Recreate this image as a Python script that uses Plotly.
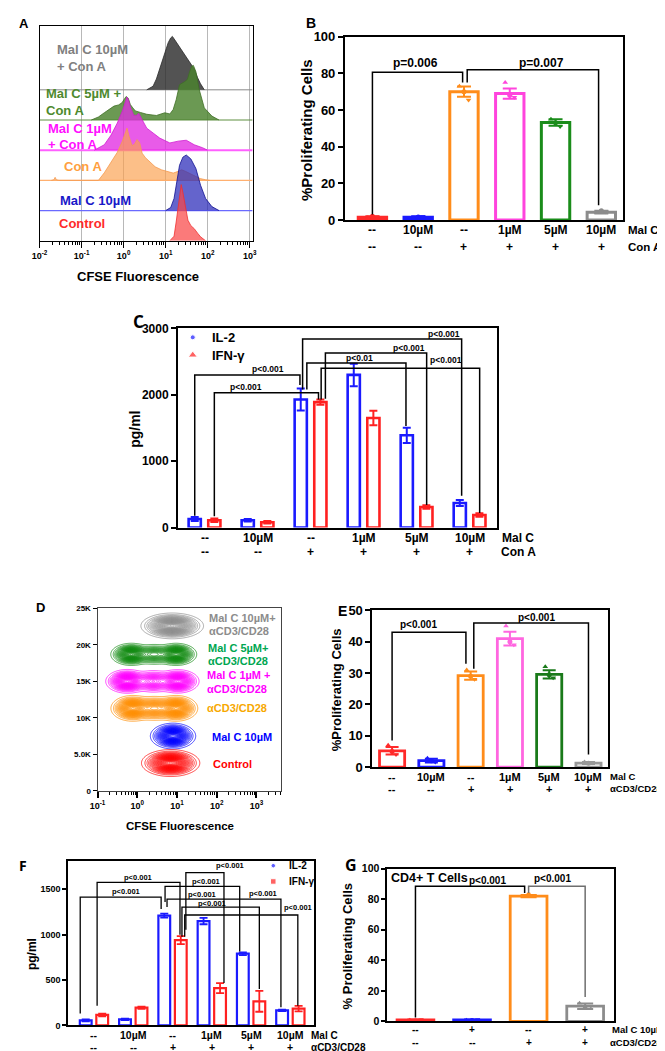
import numpy as np
import plotly.graph_objects as go

W, H = 665, 1051
ARIAL = "Liberation Sans, Arial, Helvetica, sans-serif"
CAL = "Open Sans, Liberation Sans, Arial, sans-serif"

# ======================= DATA =======================
# ---- Panel A: CFSE histograms (x = log10 CFSE, y = relative count in row units)
A_gray_x = [0.55, 0.7, 0.78, 0.86, 0.94, 1.0, 1.06, 1.12, 1.16, 1.22, 1.3, 1.38, 1.49, 1.58, 1.68, 1.76, 1.83, 1.92]
A_gray_y = [0, 0.12, 0.36, 0.7, 1.07, 1.35, 1.56, 1.72, 1.77, 1.65, 1.48, 1.3, 1.07, 0.88, 0.69, 0.4, 0.2, 0]
A_green_x = [-0.77, -0.6, -0.46, -0.32, -0.23, -0.12, -0.04, 0.02, 0.06, 0.11, 0.16, 0.22, 0.28, 0.4, 0.55,
             0.78, 0.98, 1.1, 1.18, 1.25, 1.33, 1.45, 1.52, 1.57, 1.62, 1.66, 1.72, 1.8, 1.92, 2.1, 2.27]
A_green_y = [0, 0.1, 0.24, 0.38, 0.46, 0.5, 0.57, 0.7, 0.78, 0.72, 0.51, 0.4, 0.3, 0.25, 0.19,
             0.15, 0.24, 0.2, 0.35, 0.67, 1.17, 1.27, 1.35, 1.6, 1.78, 1.81, 1.6, 1.0, 0.4, 0.13, 0]
A_mag_x = [-0.7, -0.46, -0.3, -0.15, -0.03, 0.04, 0.08, 0.12, 0.16, 0.24, 0.3, 0.36, 0.44, 0.55, 0.7,
           0.86, 1.1, 1.3, 1.49, 1.68, 1.88, 2.0]
A_mag_y = [0, 0.18, 0.5, 0.9, 1.3, 1.6, 1.76, 1.65, 1.43, 1.16, 1.15, 1.22, 1.0, 0.73, 0.57,
           0.4, 0.24, 0.3, 0.33, 0.18, 0.08, 0]
A_org_x = [-1.72, -1.66, -1.63, -1.6, -1.54, -0.6, -0.46, -0.3, -0.15, -0.03, 0.04, 0.08, 0.13, 0.2, 0.26,
           0.32, 0.38, 0.44, 0.52, 0.62, 0.75, 0.9, 1.05, 1.18, 1.3, 1.38, 1.47, 1.58, 1.7, 1.82, 1.95, 2.05]
A_org_y = [0, 0.02, 0.1, 0.02, 0, 0, 0.25, 0.6, 0.93, 1.3, 1.6, 1.73, 1.45, 1.15, 1.2,
           1.35, 1.25, 0.9, 0.75, 0.62, 0.45, 0.35, 0.3, 0.24, 0.3, 0.35, 0.3, 0.22, 0.12, 0.06, 0.02, 0]
A_blue_x = [1.0, 1.12, 1.2, 1.25, 1.33, 1.41, 1.49, 1.6, 1.72, 1.83, 1.95, 2.1, 2.27]
A_blue_y = [0, 0.1, 0.4, 0.84, 1.5, 1.77, 1.84, 1.71, 1.39, 0.84, 0.4, 0.13, 0]
A_red_x = [1.1, 1.2, 1.25, 1.3, 1.34, 1.37, 1.41, 1.45, 1.53, 1.6, 1.68, 1.76, 1.83, 1.95]
A_red_y = [0, 0.15, 0.62, 1.1, 1.6, 1.86, 1.6, 1.27, 0.68, 0.5, 0.4, 0.25, 0.13, 0]
A_labels = [["Mal C 10µM", "+ Con A"], ["Mal C 5µM +", "Con A"], ["Mal C 1µM", "+ Con A"],
            ["Con A"], ["Mal C 10µM"], ["Control"]]
A_ticks = ["10<sup>-2</sup>", "10<sup>-1</sup>", "10<sup>0</sup>", "10<sup>1</sup>", "10<sup>2</sup>", "10<sup>3</sup>"]

# ---- Panel B: % proliferating cells (Con A)
B_malc = ["--", "10µM", "--", "1µM", "5µM", "10µM"]
B_cona = ["--", "--", "+", "+", "+", "+"]
B_mean = [1.5, 1.5, 70.0, 69.0, 53.2, 4.3]
B_sem = [0.6, 0.5, 2.8, 2.8, 1.8, 0.7]
B_pts = [[1.2, 2.0, 1.6], [1.0, 1.6, 1.9], [73, 70, 65.5], [75, 68, 67], [55, 53, 51], [4.0, 5.0, 4.5]]

# ---- Panel C: cytokines (Con A)
C_il2 = [130, 110, 1930, 2300, 1390, 370]
C_il2_err = [30, 20, 165, 170, 115, 45]
C_ifn = [110, 80, 1890, 1650, 310, 190]
C_ifn_err = [25, 20, 40, 110, 25, 25]

# ---- Panel D: contour populations (log10 CFSE blob centres, FSC-like y centre)
D_labels = [["Mal C 10µM+", "αCD3/CD28"], ["Mal C 5µM+", "αCD3/CD28"], ["Mal C 1µM +", "αCD3/CD28"],
            ["αCD3/CD28"], ["Mal C 10µM"], ["Control"]]
D_yc = [22600, 18700, 15000, 11300, 7500, 3800]
D_blob_x = [[0.88], [-0.15, 0.42, 0.98], [-0.25, 0.4, 1.02], [-0.12, 0.43, 0.98], [0.9], [0.84]]
D_blob_w = [[1.0], [1.0, 0.45, 1.0], [1.0, 0.5, 0.9], [0.9, 0.5, 0.9], [1.0], [1.0]]
D_sx = [0.29, 0.19, 0.2, 0.2, 0.21, 0.27]
D_sy = [650, 560, 600, 650, 650, 680]
D_yticks = [0, 5000, 10000, 15000, 20000, 25000]
D_ytext = ["0", "5.0K", "10K", "15K", "20K", "25K"]
D_xticks = ["10<sup>-1</sup>", "10<sup>0</sup>", "10<sup>1</sup>", "10<sup>2</sup>", "10<sup>3</sup>"]

# ---- Panel E: % proliferating cells (aCD3/CD28)
E_malc = ["--", "10µM", "--", "1µM", "5µM", "10µM"]
E_stim = ["--", "--", "+", "+", "+", "+"]
E_mean = [5.2, 2.1, 29.2, 41.0, 29.6, 1.3]
E_sem = [1.2, 0.6, 1.3, 2.2, 1.3, 0.3]
E_pts = [[7.0, 5.0, 4.0], [2.8, 2.0, 1.6], [31, 29, 28], [45, 40, 39], [32, 29.5, 28.5], [1.6, 1.2, 1.4]]

# ---- Panel F: cytokines (aCD3/CD28)
F_il2 = [55, 65, 1210, 1150, 790, 165]
F_il2_err = [10, 8, 22, 35, 15, 8]
F_ifn = [115, 195, 940, 410, 265, 185]
F_ifn_err = [15, 12, 45, 55, 115, 30]

# ---- Panel G: CD4+ T cells
G_malc = ["--", "+", "--", "+"]
G_stim = ["--", "--", "+", "+"]
G_mean = [1.0, 1.0, 82.0, 10.0]
G_sem = [0.3, 0.3, 0.8, 1.8]
G_pts = [[1.0, 0.5, 1.2], [1.0, 0.8, 1.2], [82, 83, 82.5], [12, 9, 10]]

# ======================= LAYOUT HELPERS =======================
BOX = {1: ((24, 241), (11, 229)), 2: ((335, 618), (22, 208)), 3: ((165, 490), (318, 520)),
       4: ((83, 270), (602, 787)), 5: ((363, 603), (604, 763)), 6: ((53, 303), (858, 1025)),
       7: ((378, 609), (866, 1021))}
RANGES = {1: ([-2, 3.07], [0, 7.12]), 2: ([-0.6, 5.47], [0, 100]), 3: ([-0.5, 5.52], [0, 3000]),
          4: ([-1, 3.62], [0, 25000]), 5: ([-0.5, 5.5], [0, 50]), 6: ([-0.66, 5.59], [0, 1815]),
          7: ([-0.5, 3.51], [0, 100])}

def xr(n): return "x" if n == 1 else f"x{n}"
def yr(n): return "y" if n == 1 else f"y{n}"
def xk(n): return "xaxis" if n == 1 else f"xaxis{n}"
def yk(n): return "yaxis" if n == 1 else f"yaxis{n}"

def d2(n, px, py):
    (xl, xrr), (yt, yb) = BOX[n]
    (x0, x1), (y0, y1) = RANGES[n]
    return x0 + (px - xl) / (xrr - xl) * (x1 - x0), y0 + (yb - py) / (yb - yt) * (y1 - y0)

fig = go.Figure()
layout = dict(width=W, height=H, margin=dict(l=0, r=0, t=0, b=0), paper_bgcolor="white",
              plot_bgcolor="white", barmode="overlay", showlegend=False)
ann = []

def T(x, y, s, size, color="black", xa="center", ya="middle", xref="paper", yref="paper",
      family=ARIAL, angle=0):
    ann.append(dict(x=x, y=y, xref=xref, yref=yref, text=f"<b>{s}</b>", showarrow=False,
                    font=dict(family=family, size=size, color=color), xanchor=xa, yanchor=ya,
                    textangle=angle))

def Tp(px, py, s, size, **kw):
    T(px / W, 1 - py / H, s, size, **kw)

def axes(n, xextra=None, yextra=None, lw=2, lc="black"):
    (xl, xrr), (yt, yb) = BOX[n]
    layout[xk(n)] = dict(domain=[xl / W, xrr / W], range=RANGES[n][0], anchor=yr(n), showline=True,
                         linecolor=lc, linewidth=lw, mirror=True, showgrid=False, zeroline=False,
                         showticklabels=False, ticks="", fixedrange=True)
    layout[yk(n)] = dict(domain=[1 - yb / H, 1 - yt / H], range=RANGES[n][1], anchor=xr(n), showline=True,
                         linecolor=lc, linewidth=lw, mirror=True, showgrid=False, zeroline=False,
                         showticklabels=False, ticks="", fixedrange=True)
    if xextra: layout[xk(n)].update(xextra)
    if yextra: layout[yk(n)].update(yextra)

def ytick_style(vals, size, lw, tlen=5, text=None):
    return dict(tickvals=vals, ticktext=[f"<b>{t}</b>" for t in (text or vals)], showticklabels=True,
                ticks="outside", ticklen=tlen, tickwidth=lw, tickcolor="black",
                tickfont=dict(family=ARIAL, size=size, color="black"))

def bar(n, x, m, e, c, width, lw, cap, et):
    fig.add_trace(go.Bar(x=[x], y=[m], width=[width],
                         marker=dict(color="white", line=dict(color=c, width=lw)),
                         error_y=dict(type="data", array=[e], visible=True, color=c, thickness=et, width=cap),
                         xaxis=xr(n), yaxis=yr(n), hoverinfo="skip"))

def pts(n, x, vals, c, size=5, offs=(-0.1, 0.0, 0.1), sym=("triangle-up", "circle", "triangle-down")):
    fig.add_trace(go.Scatter(x=[x + o for o in offs], y=vals, mode="markers",
                             marker=dict(color=c, size=size, symbol=list(sym)),
                             xaxis=xr(n), yaxis=yr(n), hoverinfo="skip"))

def bracket(n, x1, y1, top, x2, y2, lab, lx, ly, size, color="black", w=1.5):
    fig.add_trace(go.Scatter(x=[x1, x1, x2, x2], y=[y1, top, top, y2], mode="lines",
                             line=dict(color=color, width=w), xaxis=xr(n), yaxis=yr(n), hoverinfo="skip"))
    if lab:
        T(lx, ly, lab, size, xref=xr(n), yref=yr(n))

def cat_rows(n, xs, row1, row2, y1, y2, size, r1lab, r2lab, rx1, rx2, rsize=None):
    for x, a, b in zip(xs, row1, row2):
        T(x, 1 - y1 / H, a, size, xref=xr(n))
        T(x, 1 - y2 / H, b, size, xref=xr(n))
    Tp(rx1, y1, r1lab, rsize or size, xa="left")
    Tp(rx2, y2, r2lab, rsize or size, xa="left")

# ======================= PANEL A =======================
minorA = [e + np.log10(k) for e in range(-2, 3) for k in range(2, 10)]
axes(1, xextra=dict(tickvals=[-2, -1, 0, 1, 2, 3], ticktext=[f"<b>{t}</b>" for t in A_ticks],
                    showticklabels=True, ticks="outside", ticklen=6, tickwidth=1.2, tickcolor="black",
                    tickfont=dict(family=ARIAL, size=9, color="black"), showgrid=True,
                    gridcolor="#b8b8b8", gridwidth=1,
                    minor=dict(tickvals=minorA, ticks="outside", ticklen=3, tickcolor="black",
                               tickwidth=1, showgrid=False)),
     lw=1)
A_series = [(A_gray_x, A_gray_y, 5), (A_green_x, A_green_y, 4), (A_mag_x, A_mag_y, 3),
            (A_org_x, A_org_y, 2), (A_blue_x, A_blue_y, 1), (A_red_x, A_red_y, 0)]
A_fill = ["rgba(45,45,45,0.82)", "rgba(75,130,45,0.82)", "rgba(225,45,225,0.78)",
          "rgba(250,160,80,0.68)", "rgba(40,40,185,0.72)", "rgba(250,70,70,0.72)"]
A_edge = ["#2a2a2a", "#3f6f25", "#d020d0", "#f59a50", "#101090", "#f03030"]
A_base = ["#8a8a8a", "#5f8f40", "#ff60ff", "#ffb070", "#6a6aff", None]
A_basew = [1, 1, 2, 1.2, 1.2, 0]
A_txtc = ["#808080", "#4e8a2e", "#ff10ff", "#ffa040", "#1818c8", "#ff2a2a"]
for (xs, hs, base), bc, bw in zip(A_series, A_base, A_basew):
    if bc:
        fig.add_trace(go.Scatter(x=RANGES[1][0], y=[base, base], mode="lines", line=dict(color=bc, width=bw),
                                 xaxis="x", yaxis="y", hoverinfo="skip"))
for (xs, hs, base), fc, ec in zip(A_series, A_fill, A_edge):
    fig.add_trace(go.Scatter(x=list(xs), y=[base + h for h in hs], mode="lines", fill="toself",
                             fillcolor=fc, line=dict(color=ec, width=0.8), xaxis="x", yaxis="y",
                             hoverinfo="skip"))
A_lab_pos = [(40, [35, 52]), (29, [80, 97]), (31, [115, 131]), (47, [154]), (43, [188]), (42, [212])]
for labs, (lx, lys), c in zip(A_labels, A_lab_pos, A_txtc):
    for s, ly in zip(labs, lys):
        Tp(lx, ly, s, 13, color=c, xa="left")
Tp(124, 265, "CFSE Fluorescence", 13)
Tp(8, 9, "A", 13)

# ======================= PANEL B =======================
B_col = ["#ff2a2a", "#1a1aff", "#ff8c1a", "#ff44dd", "#1a8c1a", "#8c8c8c"]
axes(2, yextra=ytick_style([0, 20, 40, 60, 80, 100], 13, 2), lw=2)
for i, (m, e, c, p) in enumerate(zip(B_mean, B_sem, B_col, B_pts)):
    bar(2, i, m, e, c, 0.62, 3, 7, 2)
    pts(2, i, p, c, size=5)
bracket(2, 0, 3.0, 80.6, 1.97, 75, "p=0.006", 0.95, 85.5, 12)
bracket(2, 2.07, 75, 82, 4.94, 8, "p=0.007", 3.69, 85.5, 12)
cat_rows(2, range(6), B_malc, B_cona, 218, 235, 12, "Mal C", "Con A", 621, 621, rsize=11.5)
Tp(296, 117, "%Proliferating Cells", 15, angle=-90)
Tp(300, 8, "B", 14)

# ======================= PANEL C =======================
BLUE, RED = "#1a1aff", "#ff2020"
axes(3, yextra=ytick_style([0, 1000, 2000, 3000], 12, 2), lw=2)
for i in range(6):
    bar(3, i - 0.185, C_il2[i], C_il2_err[i], BLUE, 0.23, 2.6, 4, 2)
    bar(3, i + 0.185, C_ifn[i], C_ifn_err[i], RED, 0.23, 2.6, 4, 2)
C_br = [(-0.185, 180, 2300, 1.8, 2150, "p<0.001", 1.19, 2392),
        (0.185, 170, 2030, 2.15, 1930, "p<0.001", 0.78, 2125),
        (1.85, 2080, 2840, 4.85, 480, "p<0.001", 4.52, 2912),
        (2.28, 1940, 2630, 4.19, 340, "p<0.001", 3.85, 2704),
        (1.93, 2080, 2480, 3.8, 1530, "p<0.01", 2.93, 2556),
        (2.2, 1930, 2400, 5.19, 220, "p<0.001", 4.56, 2526)]
for b in C_br:
    bracket(3, *b, 8.5)
cat_rows(3, range(6), B_malc, B_cona, 531, 545, 12, "Mal C", "Con A", 493, 492)
lx, ly1 = d2(3, 180, 327)
_, ly2 = d2(3, 180, 345)
fig.add_trace(go.Scatter(x=[lx, lx], y=[ly1, ly2], mode="markers",
                         marker=dict(color=[BLUE, RED], size=[5, 8], symbol=["circle", "triangle-up"]),
                         xaxis="x3", yaxis="y3", hoverinfo="skip"))
Tp(198, 327, "IL-2", 13, xa="left")
Tp(198, 345, "IFN-γ", 13, xa="left")
Tp(121, 420, "pg/ml", 14, angle=-90)
Tp(125, 311, "C", 17, family=CAL)

# ======================= PANEL D =======================
minorD = [e + np.log10(k) for e in range(-1, 4) for k in range(2, 10) if e + np.log10(k) < 3.62]
axes(4, xextra=dict(tickvals=[-1, 0, 1, 2, 3], ticktext=[f"<b>{t}</b>" for t in D_xticks],
                    showticklabels=True, ticks="outside", ticklen=6, tickwidth=1.5, tickcolor="black",
                    tickfont=dict(family=ARIAL, size=9, color="black"),
                    minor=dict(tickvals=minorD, ticks="outside", ticklen=3, tickcolor="black", tickwidth=1)),
     yextra=dict(tickvals=D_yticks, ticktext=[f"<b>{t}</b>" for t in D_ytext], showticklabels=True,
                 ticks="outside", ticklen=4, tickwidth=1.2, tickcolor="black",
                 tickfont=dict(family=ARIAL, size=8, color="black")),
     lw=1, lc="#444444")
D_col = ["#8c8c8c", "#128a12", "#ff00ff", "#ff8c00", "#0000ff", "#ff0000"]
D_txtc = ["#8c8c8c", "#00a651", "#ff00ff", "#f7a800", "#0000ff", "#ff0000"]
gx = np.linspace(-1.0, 2.6, 220)
for yc, bx, bw, sx, sy, c in zip(D_yc, D_blob_x, D_blob_w, D_sx, D_sy, D_col):
    gy = np.linspace(yc - 2400, yc + 2400, 80)
    X, Y = np.meshgrid(gx, gy)
    Z = sum(w * np.exp(-((X - cx) ** 2 / (2 * sx ** 2) + (Y - yc) ** 2 / (2 * sy ** 2)))
            for cx, w in zip(bx, bw))
    Z = Z / Z.max()
    fig.add_trace(go.Contour(x=gx, y=gy, z=Z, showscale=False, colorscale=[[0, c], [1, c]],
                             contours=dict(coloring="lines", start=0.025, end=0.985, size=0.032),
                             line=dict(width=0.75, smoothing=1), xaxis="x4", yaxis="y4",
                             hoverinfo="skip"))
D_lab_pos = [(195, [612, 625]), (193, [642, 655]), (192, [670, 684]), (192, [703]), (198, [732]), (199, [760])]
for labs, (lx_, lys), c in zip(D_labels, D_lab_pos, D_txtc):
    for s, ly in zip(labs, lys):
        Tp(lx_, ly, s, 11, color=c, xa="left")
Tp(167, 823, "CFSE Fluorescence", 11.5)
Tp(25, 601, "D", 13)

# ======================= PANEL E =======================
E_col = ["#ff2a2a", "#1a1aff", "#ff8c1a", "#ff66e0", "#1a7a1a", "#999999"]
axes(5, yextra=ytick_style([0, 10, 20, 30, 40, 50], 13, 2), lw=2)
for i, (m, e, c, p) in enumerate(zip(E_mean, E_sem, E_col, E_pts)):
    bar(5, i, m, e, c, 0.64, 2.8, 6.5, 2)
    pts(5, i, p, c, size=5)
bracket(5, 0.0, 8.5, 43, 1.88, 33, "p<0.001", 0.68, 45.5, 10)
bracket(5, 2.08, 31.4, 46, 5.0, 4, "p<0.001", 3.68, 47.8, 10)
cat_rows(5, range(6), E_malc, E_stim, 773, 785, 11, "Mal C", "αCD3/CD28", 603, 603, rsize=9.5)
Tp(326, 685, "%Proliferating Cells", 13, angle=-90)
Tp(333, 605, "E", 14)

# ======================= PANEL F =======================
axes(6, yextra=ytick_style([0, 500, 1000, 1500], 9, 1.5, tlen=4), lw=1.5)
for i in range(6):
    bar(6, i - 0.21, F_il2[i], F_il2_err[i], BLUE, 0.3, 2.2, 4, 1.8)
    bar(6, i + 0.21, F_ifn[i], F_ifn_err[i], RED, 0.3, 2.2, 4, 1.8)
F_br = [(-0.35, 130, 1413, 1.71, 1283, "p<0.001", 0.81, 1478),
        (0.08, 217, 1576, 2.19, 1000, "p<0.001", 1.11, 1630),
        (2.34, 1054, 1685, 3.31, 467, "p<0.001", 3.46, 1760),
        (1.81, 1360, 1533, 3.71, 815, "p<0.001", 2.84, 1587),
        (1.86, 1304, 1391, 4.76, 200, "p<0.001", 4.31, 1457),
        (2.24, 978, 1304, 4.21, 402, "p<0.001", 3.01, 1348),
        (2.31, 978, 1217, 5.19, 217, "p<0.001", 5.19, 1304)]
for b in F_br:
    bracket(6, *b, 7.5, w=1.3)
T(2.76, 1446, "p<0.001", 7.5, xref="x6", yref="y6")
cat_rows(6, range(6), B_malc, E_stim, 1035, 1047, 10.5, "Mal C", "αCD3/CD28", 298, 298, rsize=10)
fx, fy1 = d2(6, 262, 863)
_, fy2 = d2(6, 262, 879)
fig.add_trace(go.Scatter(x=[fx, fx], y=[fy1, fy2], mode="markers",
                         marker=dict(color=[BLUE, RED], size=[4.5, 5.5], symbol=["circle", "square"]),
                         xaxis="x6", yaxis="y6", hoverinfo="skip", cliponaxis=False))
Tp(276, 863, "IL-2", 10, xa="left")
Tp(276, 879, "IFN-γ", 10, xa="left")
Tp(17, 953, "pg/ml", 12, angle=-90)
Tp(7, 863, "F", 14, family=CAL)

# ======================= PANEL G =======================
G_col = ["#ff2a2a", "#1a1aff", "#ff8c1a", "#8c8c8c"]
axes(7, yextra=ytick_style([0, 20, 40, 60, 80, 100], 10.5, 1.5, tlen=4), lw=1.5)
for i, (m, e, c, p) in enumerate(zip(G_mean, G_sem, G_col, G_pts)):
    bar(7, i, m, e, c, 0.65, 2.8, 8, 2)
    pts(7, i, p, c, size=4.5)
bracket(7, 0, 2.5, 88.4, 1.93, 84, "p<0.001", 1.28, 92.5, 10)
bracket(7, 2.0, 84, 88.4, 3.0, 16, "p<0.001", 2.43, 93.5, 10, color="#6e6e6e")
cat_rows(7, range(4), G_malc, G_stim, 1029, 1042, 10, "Mal C 10µM", "αCD3/CD28", 605, 603, rsize=9.5)
Tp(380, 875, "CD4+ T Cells", 12.5, xa="left")
Tp(338, 945, "% Proliferating Cells", 13, angle=-90)
Tp(341, 862, "G", 16, family=CAL)

layout["annotations"] = ann
fig.update_layout(**layout)
fig.write_html("out.html")
